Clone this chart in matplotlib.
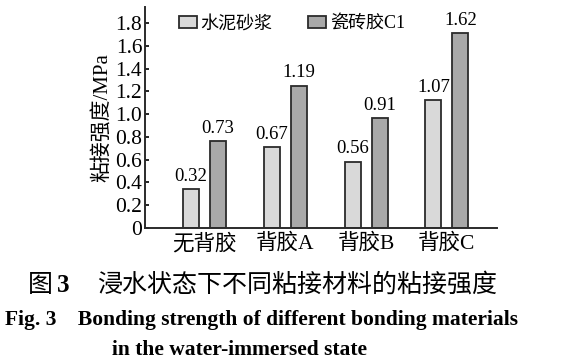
import matplotlib
matplotlib.use("Agg")
import matplotlib.pyplot as plt
import numpy as np

# --- DATOS ---
categorias = ["无背胶", "背胶A", "背胶B", "背胶C"]
series = ["水泥砂浆", "瓷砖胶C1"]
# alturas de las barras tal como se ven en la figura
mortero = [0.34, 0.71, 0.58, 1.12]
adhesivo = [0.76, 1.25, 0.965, 1.71]
# valores impresos sobre las barras
etiq_mortero = ["0.32", "0.67", "0.56", "1.07"]
etiq_adhesivo = ["0.73", "1.19", "0.91", "1.62"]
yticks = [0, 0.2, 0.4, 0.6, 0.8, 1.0, 1.2, 1.4, 1.6, 1.8]
ytick_labels = ["0", "0.2", "0.4", "0.6", "0.8", "1.0", "1.2", "1.4", "1.6", "1.8"]

FAM = ["Liberation Serif", "Noto Sans CJK SC"]
plt.rcParams["font.family"] = FAM

fig = plt.figure(figsize=(5.8, 3.6), dpi=100)
ax = fig.add_axes([145 / 580, 1 - 228 / 360, (497 - 145) / 580, (228 - 7) / 360])

x = np.arange(len(categorias))
off = 0.167
w = 0.2
ax.bar(x - off, mortero, width=w, color="#d9d9d9", edgecolor="#2b2b2b",
       linewidth=1.3, label=series[0])
ax.bar(x + off, adhesivo, width=w, color="#a9a9a9", edgecolor="#2b2b2b",
       linewidth=1.3, label=series[1])

for xi, h, t in zip(x - off, mortero, etiq_mortero):
    ax.text(xi, h + 0.04, t, ha="center", va="bottom", fontsize=13.5)
for xi, h, t in zip(x + off, adhesivo, etiq_adhesivo):
    ax.text(xi, h + 0.04, t, ha="center", va="bottom", fontsize=13.5)

ax.set_xlim(-0.737, 3.62)
ax.set_ylim(0, 1.94)
ax.set_yticks(yticks)
ax.set_yticklabels(ytick_labels, fontsize=15.5)
ax.set_xticks(x)
ax.set_xticklabels(categorias, fontsize=15.5)
ax.tick_params(axis="y", direction="in", length=3, pad=2, width=1.2)
ax.tick_params(axis="x", length=0, pad=4)
for s in ["top", "right"]:
    ax.spines[s].set_visible(False)
for s in ["left", "bottom"]:
    ax.spines[s].set_linewidth(1.4)
    ax.spines[s].set_color("#2b2b2b")
ax.set_ylabel("粘接强度/MPa", fontsize=15, labelpad=2)

ax.legend(ncol=2, frameon=False, loc="upper left", bbox_to_anchor=(0.075, 0.995),
          fontsize=13, handlelength=1.0, handleheight=0.6, handletextpad=0.2,
          columnspacing=2.0, borderaxespad=0)

# --- PIE DE FIGURA ---
fig.text(28 / 580, 1 - 285 / 360, "图", fontsize=18, va="center", ha="left",
         family=["Noto Sans CJK SC"])
fig.text(57 / 580, 1 - 285 / 360, "3", fontsize=18, va="center", ha="left",
         fontweight="bold", family=["Liberation Serif"])
fig.text(97 / 580, 1 - 285 / 360, "浸水状态下不同粘接材料的粘接强度", fontsize=18,
         va="center", ha="left", family=["Noto Sans CJK SC"])
fig.text(5 / 580, 1 - 320 / 360, "Fig. 3    Bonding strength of different bonding materials",
         fontsize=15.5, fontweight="bold", va="center", ha="left", family=["Liberation Serif"])
fig.text(240 / 580, 1 - 350 / 360, "in the water-immersed state", fontsize=15.5,
         fontweight="bold", va="center", ha="center", family=["Liberation Serif"])

fig.savefig("out.png", dpi=100)
